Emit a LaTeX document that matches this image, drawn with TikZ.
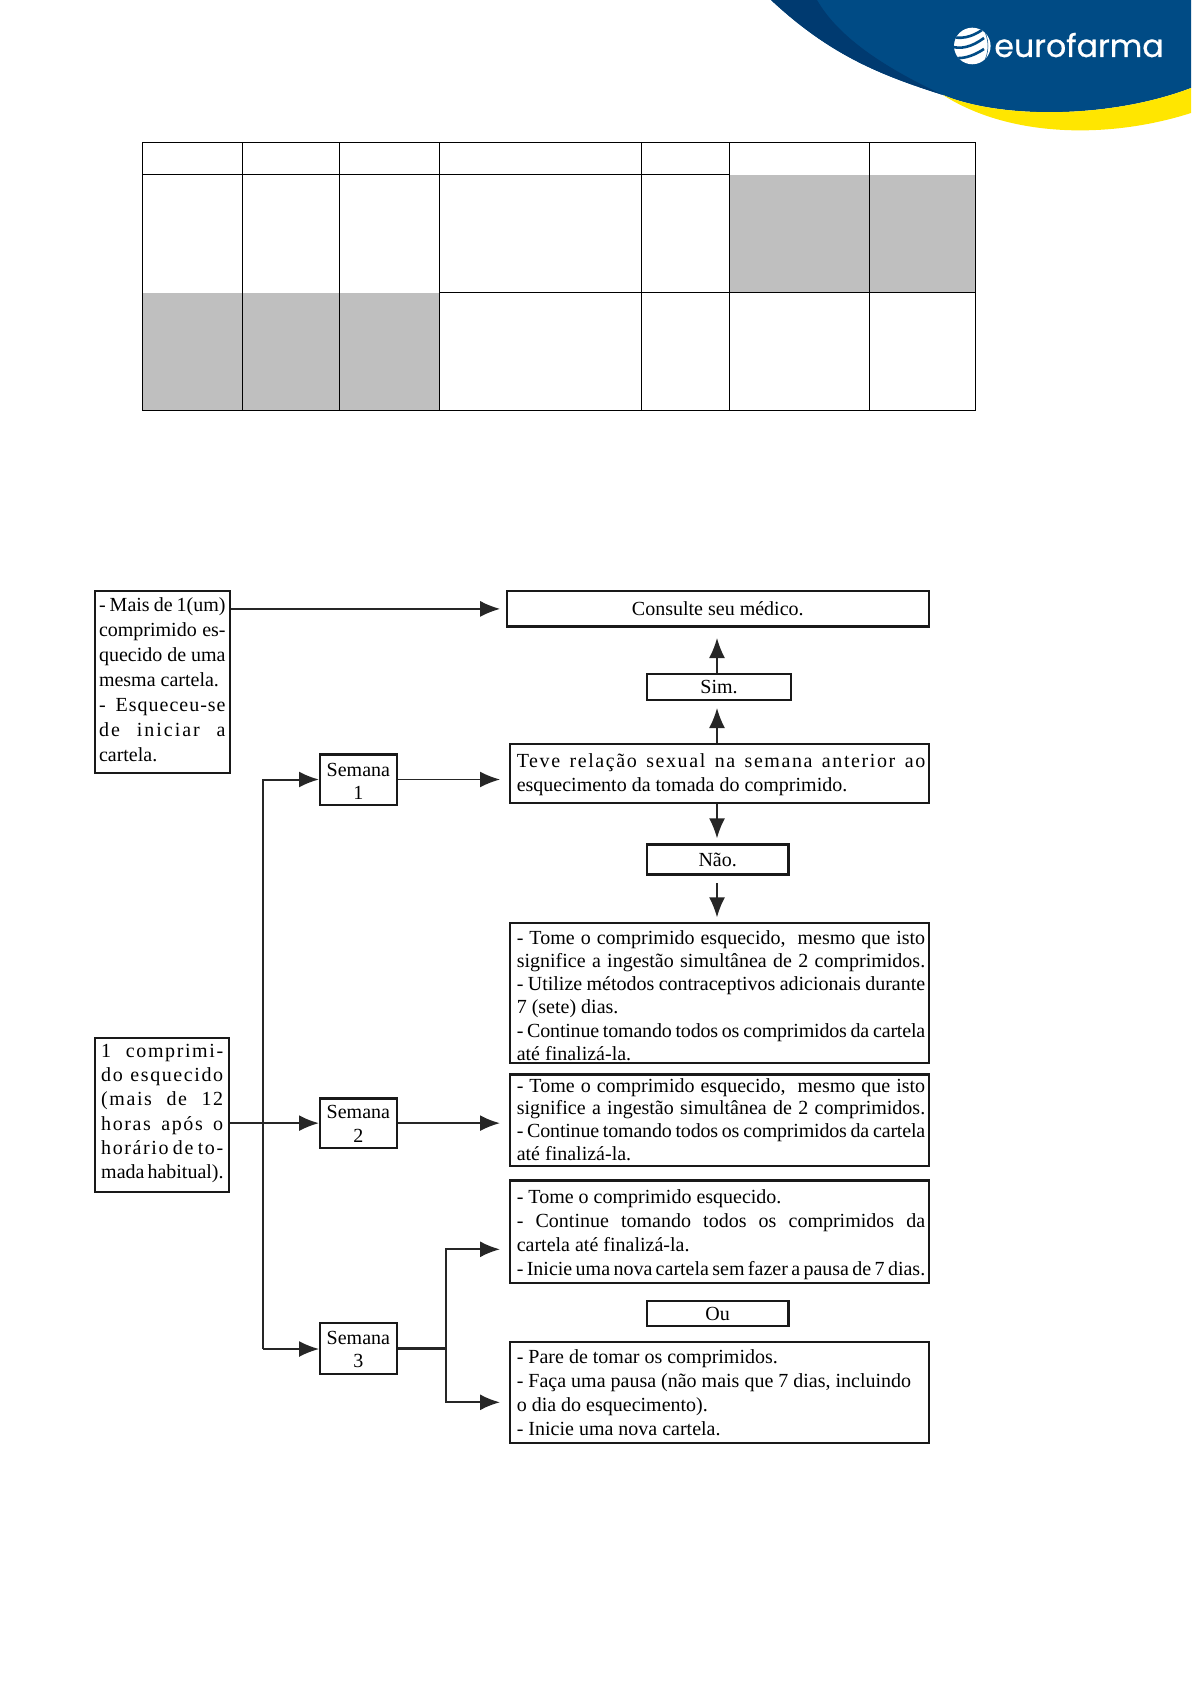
\documentclass[tikz,border=0pt]{standalone}
\usepackage{fontspec}
\setmainfont{Liberation Serif}
\newfontfamily\LogoFont[FakeBold=0.6]{Poppins}
\usetikzlibrary{arrows.meta}
\newcommand{\TxOff}{0pt}
\newcommand{\Tx}[1]{\fontsize{10}{#1}\selectfont}
\newcommand{\Jl}[1]{\leavevmode\kern\TxOff\hbox to \hsize{\spaceskip=1.7pt plus 8pt minus .2pt\relax #1}}
\newcommand{\Nl}[1]{\leavevmode\kern\TxOff\hbox{\spaceskip=2.5pt plus 1pt minus .2pt\relax #1}}
\newcommand{\Ls}[2]{{\addfontfeature{LetterSpace=#1}#2}}
\newcommand{\UpBy}[1]{\endgraf\vspace{#1pt}}
\definecolor{LogoBlue}{HTML}{004B85}
\definecolor{LogoDark}{HTML}{003A70}
\definecolor{LogoYellow}{HTML}{FFE600}
\definecolor{CellGray}{HTML}{BFBFBF}

\begin{document}
\begin{tikzpicture}[
x=0.5pt,y=-0.5pt,
MyCells/.style={draw=black,line width=0.5pt},
MyBox/.style={draw=black!90,line width=1.2pt,anchor=north west,inner xsep=2.6pt,inner ysep=0pt,align=left},
MyBoxRight/.style={MyBox,text width=204.2pt,execute at begin node={\renewcommand{\TxOff}{0.7pt}}},
MySmall/.style={draw=black!90,line width=1.1pt,anchor=north west,inner sep=0pt,align=center,font=\Tx{11.6}},
MyWeek/.style={MySmall,text width=38.25pt},
TextUp/.style={execute at end node={\UpBy{#1}}},
MyArrow/.style={-{Latex[length=10pt,width=8pt]},draw=black!85,line width=0.8pt},
MyLine/.style={draw=black!85,line width=0.8pt}
]
\useasboundingbox (0,0) rectangle (1191,1684);

% logo
\fill[LogoBlue] (771,0) .. controls (830,55) and (880,75) .. (943,95) .. controls (1000,119) and (1110,119) .. (1191,88) -- (1191,0) -- cycle;
\fill[LogoDark] (771,0) .. controls (830,55) and (880,75) .. (943,95) .. controls (890,70) and (840,40) .. (817,0) -- cycle;
\fill[LogoYellow] (943,95) .. controls (1000,119) and (1110,119) .. (1191,88) -- (1191,113) .. controls (1110,139) and (1010,138) .. (943,95) -- cycle;
\fill[white] (972.3,46) circle (18.3);
\begin{scope}
\clip (972.3,46) circle (18.3);
\draw[LogoBlue,line width=1.3pt] (950,36) .. controls (960,40) and (972,37) .. (982,30);
\draw[LogoBlue,line width=1.3pt] (950,46) .. controls (960,50) and (972,47) .. (984,38);
\draw[LogoBlue,line width=1.3pt] (950,57) .. controls (960,60) and (972,57) .. (984,49);
\draw[LogoBlue,line width=0.25pt] (982,26) .. controls (990,40) and (990,52) .. (982,66);
\end{scope}
\node[text=white,inner sep=0pt,anchor=base west,font={\LogoFont\fontsize{15.8}{15.8}\selectfont}] (LogoText) at (994,57) {eurofarma};

% table
\foreach \Xa/\Ya/\Xb/\Yb in {729/175/869/293,869/175/975/293,142/293/242/411,242/293/339/411,339/293/439/411}
  \fill[CellGray] (\Xa,\Ya) rectangle (\Xb,\Yb);
\draw[MyCells] (142,143) rectangle (975,411);
\draw[MyCells] (142,175) -- (729,175);
\draw[MyCells] (439,293) -- (975,293);
\foreach \Xa in {242,339,439,641,729,869}
  \draw[MyCells] (\Xa,143) -- (\Xa,411);

% boxes on the left
\node[MyBox,line width=1pt,inner xsep=2pt,font=\Tx{12.5},text width=63.3pt,minimum height=91pt,TextUp=2.7] (Mais) at (94,590) {\Jl{- Mais de 1(um)}\\\Jl{comprimido es-}\\\Jl{quecido de uma}\\\Nl{mesma cartela.}\\\Jl{\Ls{5}{- Esqueceu-se}}\\\Jl{\Ls{10}{de iniciar a}}\\\Nl{cartela.}};
\node[MyBox,line width=1pt,inner xsep=3.1pt,font=\Tx{12.1},text width=61pt,minimum height=76.6pt,TextUp=1.5] (Um) at (94,1037.3) {\Jl{\Ls{8}{1 comprimi-}}\\\Jl{\Ls{8}{do esquecido}}\\\Jl{\Ls{8}{(mais de 12}}\\\Jl{\Ls{8}{horas após o}}\\\Jl{\Ls{8}{horário de to-}}\\\Jl{mada habitual).}};

% weeks
\node[MyWeek,minimum height=25.1pt,TextUp=-2] (SemUm) at (319,753.3) {Semana\\1};
\node[MyWeek,minimum height=24.75pt,TextUp=-0.7] (SemDois) at (319,1097.3) {Semana\\2};
\node[MyWeek,minimum height=25.55pt,TextUp=-1.5] (SemTres) at (319,1321.7) {Semana\\3};

% boxes on the right
\node[MySmall,line width=1.2pt,minimum width=210.9pt,minimum height=17.7pt] (Consulte) at (505.7,590) {Consulte seu médico.};
\node[MySmall,minimum width=71.9pt,minimum height=13.05pt] (Sim) at (646,672.7) {Sim.};
\node[MyBoxRight,font=\Tx{12},minimum height=29.6pt,TextUp=-1] (Teve) at (509,742.7) {\Jl{\Ls{8}{Teve relação sexual na semana anterior ao}}\\\Nl{esquecimento da tomada do comprimido.}};
\node[MySmall,line width=1.2pt,minimum width=70.8pt,minimum height=15pt] (Nao) at (645.7,843.3) {Não.};
\node[MyBoxRight,font=\Tx{11.6},minimum height=70.1pt,TextUp=-2.5] (TomeA) at (509,921.7) {\Jl{- Tome o comprimido esquecido,\ \ mesmo que isto}\\\Jl{significe a ingestão simultânea de 2 comprimidos.}\\\Jl{- Utilize métodos contraceptivos adicionais durante}\\\Nl{7 (sete) dias.}\\\Jl{\Ls{-1}{- Continue tomando todos os comprimidos da cartela}}\\\Nl{até finalizá-la.}};
\node[MyBoxRight,font=\Tx{11.35},minimum height=45.8pt,TextUp=1] (TomeB) at (509,1073.3) {\Jl{- Tome o comprimido esquecido,\ \ mesmo que isto}\\\Jl{significe a ingestão simultânea de 2 comprimidos.}\\\Jl{\Ls{-1}{- Continue tomando todos os comprimidos da cartela}}\\\Nl{até finalizá-la.}};
\node[MyBoxRight,font=\Tx{12.1},minimum height=51.15pt,TextUp=-3] (TomeC) at (509,1179.3) {\Nl{- Tome o comprimido esquecido.}\\\Jl{- Continue tomando todos os comprimidos da}\\\Nl{cartela até finalizá-la.}\\\Jl{- Inicie uma nova cartela sem fazer a pausa de 7 dias.}};
\node[MySmall,line width=1.2pt,minimum width=70.8pt,minimum height=12.45pt] (Ou) at (645.7,1300) {Ou};
\node[MyBoxRight,font=\Tx{12},minimum height=50.45pt] (Pare) at (509,1340.7) {\Nl{- Pare de tomar os comprimidos.}\\\Nl{- Faça uma pausa (não mais que 7 dias, incluindo}\\\Nl{o dia do esquecimento).}\\\Nl{- Inicie uma nova cartela.}};

\coordinate (Tronco) at (263.3,1349);
\coordinate (Ramo) at (446,1348.3);
\coordinate (SimIn) at (717,672.7);
\coordinate (TeveUp) at (717,742.7);
\coordinate (TeveDown) at (717,804.3);
\coordinate (NaoOut) at (717,883.3);
\coordinate (TomeIn) at (717,917.3);
\coordinate (ConsulteIn) at (717,638);
\coordinate (SimOut) at (717,708);
\coordinate (NaoIn) at (717,838.3);
\coordinate (TomeCIn) at (500,1249.3);
\coordinate (PareIn) at (500,1402.3);

% connectors
\draw[MyArrow,shorten >=2.8pt] (Mais.east |- Consulte.west) -- (Consulte.west);
\draw[MyArrow,shorten >=4.5pt] (SemUm.east) -- (SemUm.east -| Teve.west);
\draw[MyArrow,line width=1pt,shorten >=4.5pt] (SemDois.east) -- (SemDois.east -| TomeB.west);
\draw[MyArrow] (SimIn) -- (ConsulteIn);
\draw[MyArrow] (TeveUp) -- (SimOut);
\draw[MyArrow] (TeveDown) -- (NaoIn);
\draw[MyArrow] (NaoOut) -- (TomeIn);
\draw[MyLine,line width=1pt] (Um.east |- SemDois.west) -- (Tronco |- SemDois.west);
\draw[MyArrow,line width=1pt] (Tronco |- SemDois.west) -- (SemDois.west);
\draw[MyArrow,line width=1pt] (Tronco) |- (SemUm.west);
\draw[MyArrow] (Tronco) -- (Tronco -| SemTres.west);
\draw[MyLine,line width=1.4pt] (SemTres.east) -- (SemTres.east -| Ramo);
\draw[MyArrow,line width=1pt] (Ramo) |- (TomeCIn);
\draw[MyArrow,line width=1pt] (Ramo) |- (PareIn);
\end{tikzpicture}
\end{document}
